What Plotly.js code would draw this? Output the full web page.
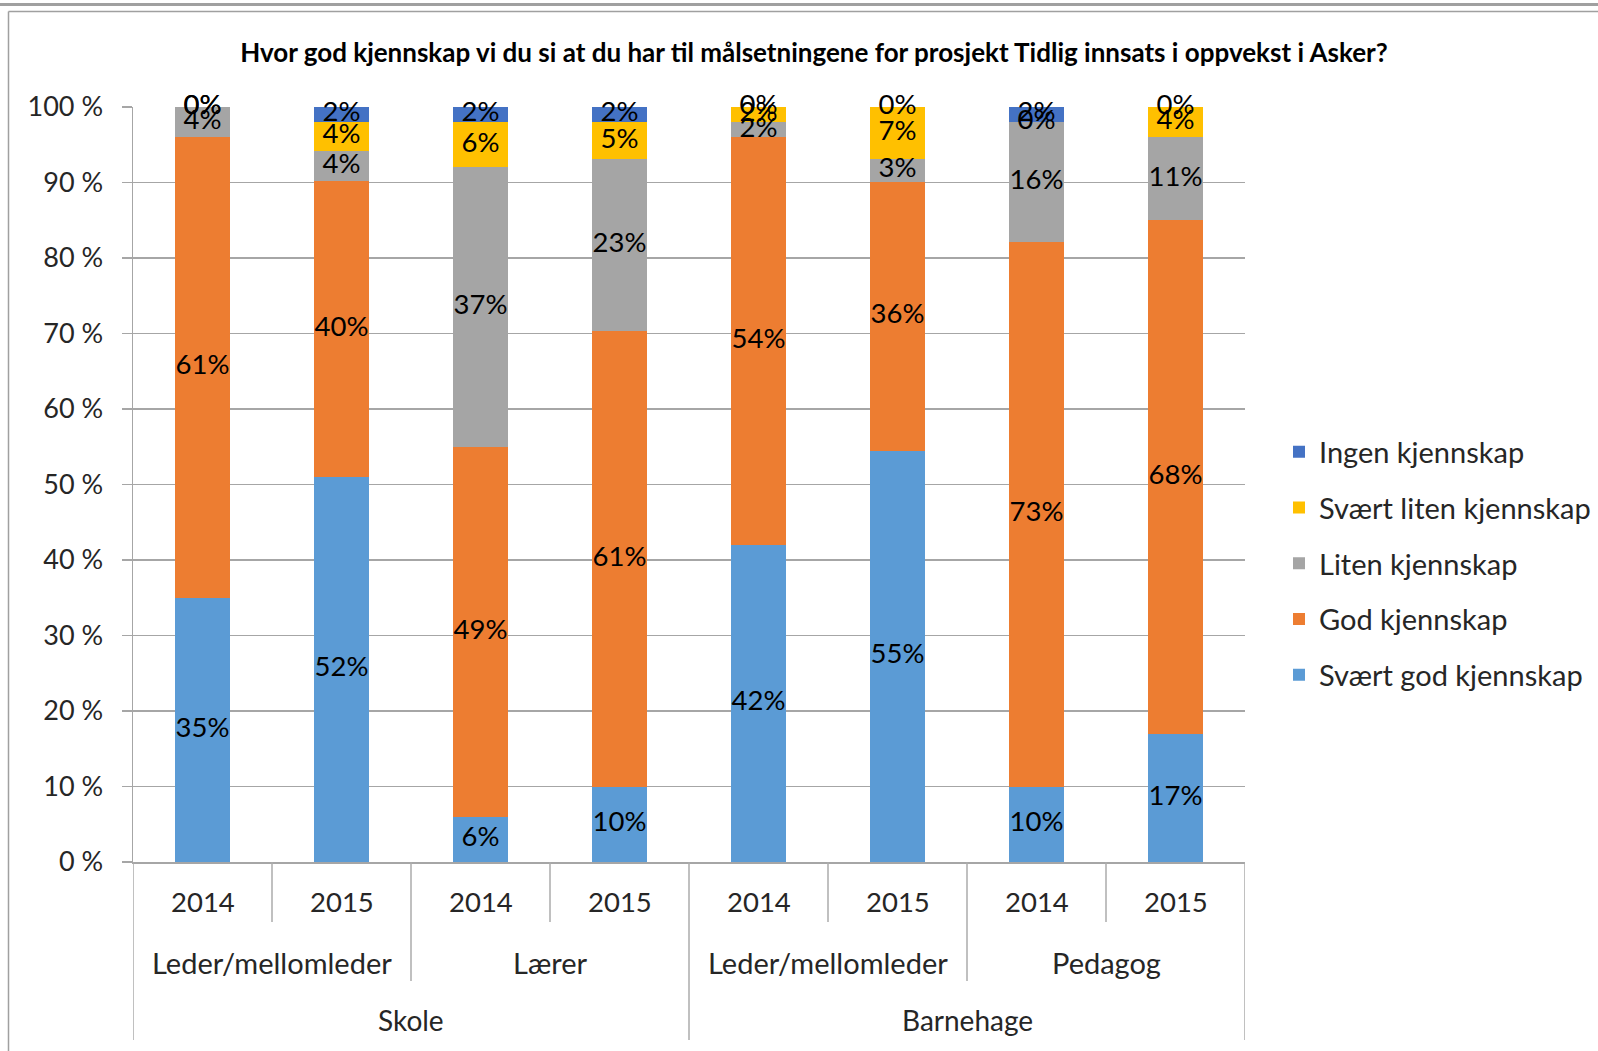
<!DOCTYPE html>
<html>
<head>
<meta charset="utf-8">
<script src="https://cdn.plot.ly/plotly-3.0.1.min.js"></script>
<style>
  html, body { margin: 0; padding: 0; background: #ffffff; }
  #chart { width: 1598px; height: 1051px; }
</style>
</head>
<body>
<div id="chart"></div>
<script>
// ---- Data ----
const years   = ['2014', '2015', '2014', '2015', '2014', '2015', '2014', '2015'];
const roles   = ['Leder/mellomleder', 'Leder/mellomleder', 'Lærer', 'Lærer',
                 'Leder/mellomleder', 'Leder/mellomleder', 'Pedagog', 'Pedagog'];
const sectors = ['Skole', 'Skole', 'Skole', 'Skole',
                 'Barnehage', 'Barnehage', 'Barnehage', 'Barnehage'];

const seriesNames = ['Svært god kjennskap', 'God kjennskap', 'Liten kjennskap',
                     'Svært liten kjennskap', 'Ingen kjennskap'];
const sværtGod   = [35, 52, 6, 10, 42, 55, 10, 17];
const god        = [61, 40, 49, 61, 54, 36, 73, 68];
const liten      = [4, 4, 37, 23, 2, 3, 16, 11];
const sværtLiten = [0, 4, 6, 5, 2, 7, 0, 4];
const ingen      = [0, 2, 2, 2, 0, 0, 2, 0];

const titleText = 'Hvor god kjennskap vi du si at du har til målsetningene for prosjekt Tidlig innsats i oppvekst i Asker?';

// ---- Styling ----
const seriesValues = [sværtGod, god, liten, sværtLiten, ingen];
const colors = ['#5B9BD5', '#ED7D31', '#A5A5A5', '#FFC000', '#4472C4'];
const FONT = 'Lato, "Open Sans", sans-serif';
const gridGray = '#A6A6A6';
const sepGray = '#ABABAB';

// pixel helpers for paper coordinates (plot area: x 133..1245, y 107..862)
const PL = 133, PR = 1245, PT = 107, PB = 862;
const px = x => (x - PL) / (PR - PL);
const py = y => (PB - y) / (PB - PT);

const xs = years.map((_, i) => i);
const traces = [];

seriesValues.forEach((vals, s) => {
  traces.push({
    type: 'bar',
    name: seriesNames[s],
    x: xs,
    y: vals,
    width: 0.4,
    marker: { color: colors[s], line: { width: 0 } },
    legendgroup: 'g' + s,
    legendrank: seriesValues.length - s,
    hoverinfo: 'skip'
  });
});

// data labels: centered on each normalized segment
const totals = xs.map(i => seriesValues.reduce((a, v) => a + v[i], 0));
const cum = xs.map(() => 0);
seriesValues.forEach((vals, s) => {
  const ys = [];
  xs.forEach(i => {
    const h = vals[i] / totals[i] * 100;
    ys.push(cum[i] + h / 2);
    cum[i] += h;
  });
  traces.push({
    type: 'scatter',
    mode: 'text',
    x: xs,
    y: ys,
    text: vals.map(v => v + '%'),
    textposition: 'middle center',
    textfont: { family: FONT, size: 27.5, color: '#000000' },
    showlegend: false,
    hoverinfo: 'skip',
    cliponaxis: false
  });
});

// ---- Category axis labels & separators ----
const annotations = [];
const shapes = [];

function runs(arr) {
  const out = [];
  let start = 0;
  for (let i = 1; i <= arr.length; i++) {
    if (i === arr.length || arr[i] !== arr[start] ||
        (arr === roles && sectors[i] !== sectors[start])) {
      out.push({ label: arr[start], start: start, end: i - 1 });
      start = i;
    }
  }
  return out;
}

years.forEach((yr, i) => {
  annotations.push({
    x: i, xref: 'x', y: py(901), yref: 'paper',
    text: yr, showarrow: false, xanchor: 'center', yanchor: 'middle',
    font: { family: FONT, size: 27.5, color: '#262626' }
  });
});
runs(roles).forEach(r => {
  annotations.push({
    x: (r.start + r.end) / 2, xref: 'x', y: py(962), yref: 'paper',
    text: r.label, showarrow: false, xanchor: 'center', yanchor: 'middle',
    font: { family: FONT, size: 29, color: '#262626' }
  });
});
runs(sectors).forEach(r => {
  annotations.push({
    x: (r.start + r.end) / 2, xref: 'x', y: py(1020), yref: 'paper',
    text: r.label, showarrow: false, xanchor: 'center', yanchor: 'middle',
    font: { family: FONT, size: 28, color: '#262626' }
  });
});

// separators: boundary depth depends on highest level that changes
for (let b = -1; b < years.length; b++) {
  let depth = 922;
  if (b === -1 || b === years.length - 1 || sectors[b] !== sectors[b + 1]) depth = 1040;
  else if (roles[b] !== roles[b + 1]) depth = 981;
  shapes.push({
    type: 'line', xref: 'x', yref: 'paper',
    x0: b + 0.5, x1: b + 0.5, y0: 0, y1: py(depth),
    line: { color: sepGray, width: 1.5 }
  });
}

// outer frame lines
shapes.push({ type: 'line', xref: 'paper', yref: 'paper',
  x0: px(0), x1: px(1598), y0: py(4.5), y1: py(4.5),
  line: { color: '#A0A0A0', width: 3 } });
shapes.push({ type: 'line', xref: 'paper', yref: 'paper',
  x0: px(8.5), x1: px(1598), y0: py(11.5), y1: py(11.5),
  line: { color: '#A0A0A0', width: 1.5 } });
shapes.push({ type: 'line', xref: 'paper', yref: 'paper',
  x0: px(8.5), x1: px(8.5), y0: py(11.5), y1: py(1051),
  line: { color: '#A0A0A0', width: 1.5 } });

const layout = {
  width: 1598,
  height: 1051,
  paper_bgcolor: '#ffffff',
  plot_bgcolor: '#ffffff',
  margin: { l: PL, r: 1598 - PR, t: PT, b: 1051 - PB, pad: 0, autoexpand: false },
  barmode: 'stack',
  barnorm: 'percent',
  showlegend: true,
  title: {
    text: '<b>' + titleText + '</b>',
    font: { family: FONT, size: 26, color: '#000000' },
    x: px(814), xanchor: 'center', xref: 'paper',
    y: 1 - 53 / 1051, yanchor: 'middle', yref: 'container'
  },
  xaxis: {
    range: [-0.5, years.length - 0.5],
    showticklabels: false,
    showgrid: false,
    zeroline: false,
    showline: true,
    linecolor: gridGray,
    linewidth: 1.5,
    ticks: '',
    fixedrange: true
  },
  yaxis: {
    range: [0, 100],
    dtick: 10,
    tick0: 0,
    ticksuffix: ' %',
    showgrid: true,
    gridcolor: gridGray,
    gridwidth: 1.3,
    zeroline: false,
    showline: true,
    linecolor: gridGray,
    linewidth: 1.5,
    ticks: 'outside',
    ticklen: 10,
    tickcolor: gridGray,
    tickwidth: 1.3,
    ticklabelstandoff: 13,
    tickfont: { family: FONT, size: 27, color: '#262626' },
    fixedrange: true,
    automargin: false
  },
  legend: {
    x: px(1279),
    xanchor: 'left',
    y: py(563.5),
    yanchor: 'middle',
    traceorder: 'grouped',
    tracegroupgap: 15,
    font: { family: FONT, size: 29, color: '#262626' },
    bgcolor: 'rgba(0,0,0,0)',
    borderwidth: 0
  },
  annotations: annotations,
  shapes: shapes
};

Plotly.newPlot('chart', traces, layout, { displayModeBar: false, staticPlot: true });
</script>
</body>
</html>
